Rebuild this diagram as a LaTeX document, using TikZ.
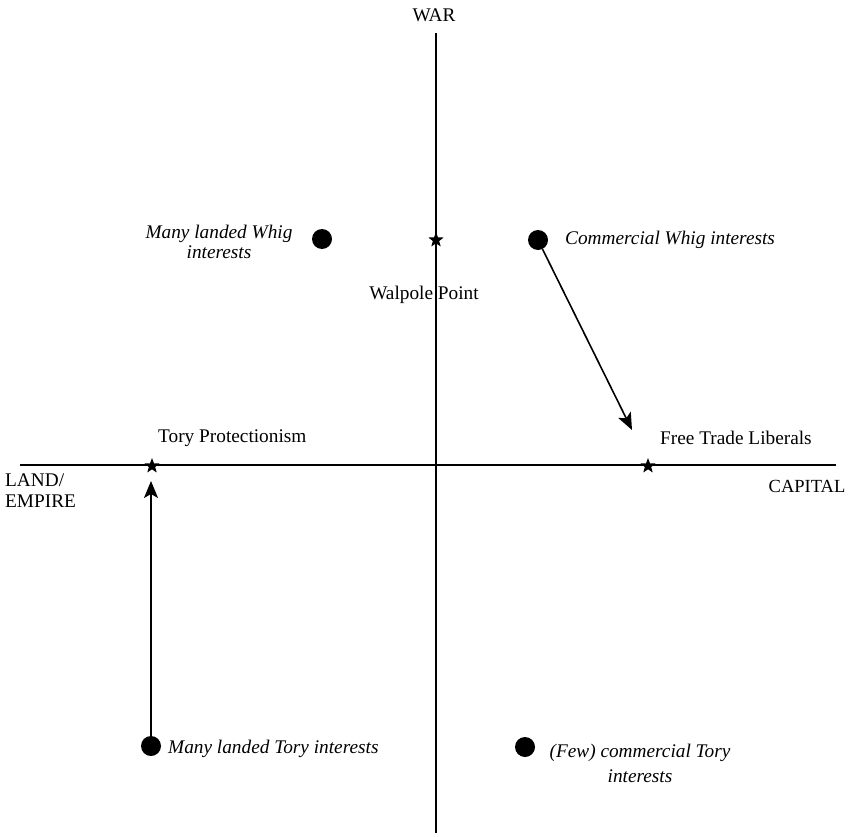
\documentclass[tikz,border=0pt]{standalone}
\usepackage{fontspec}
\setmainfont{Liberation Serif}
\usetikzlibrary{shapes.geometric,arrows.meta}
\begin{document}
\begin{tikzpicture}[x=1pt,y=-1pt,
  axis/.style={line width=1.6pt},
  dot/.style={circle,fill=black,minimum size=20pt,inner sep=0pt},
  starpt/.style={star,star points=5,star point ratio=2.4,fill=black,minimum size=16pt,inner sep=0pt},
  lbl/.style={font=\fontsize{19.3}{21}\selectfont,inner sep=0pt},
  ilbl/.style={lbl,font=\fontsize{19.3}{21}\selectfont\itshape,align=center},
  arr/.style={line width=1.6pt,-{Stealth[length=17pt,width=14pt,inset=4pt]}}]
\useasboundingbox (0,0) rectangle (856,837);
% axes
\coordinate (top) at (436,33);
\coordinate (bot) at (436,833);
\coordinate (left) at (20,465);
\coordinate (right) at (836,465);
\draw[axis] (top) -- (bot);
\draw[axis] (left) -- (right);
% stars
\node[starpt] (walpole) at (436,240) {};
\node[starpt] (tory) at (152,466) {};
\node[starpt] (free) at (648,466) {};
% dots
\node[dot] (lwhig) at (322,239) {};
\node[dot] (cwhig) at (538,240) {};
\node[dot] (ltory) at (151,746) {};
\node[dot] (ctory) at (525,747) {};
% arrows
\coordinate (t1) at (632,430);
\coordinate (t2) at (151,481);
\draw[arr] (cwhig) -- (t1);
\draw[arr] (ltory.north) -- (t2);
% labels
\node[lbl] (war) at (434,15) {WAR};
\node[lbl] (wp) at (424,295) {Walpole Point};
\node[lbl,anchor=west] (tp) at (158,438) {Tory Protectionism};
\node[lbl,anchor=west] (ftl) at (660,438) {Free Trade Liberals};
\node[lbl,anchor=west,align=left] (land) at (5,491) {LAND/\\EMPIRE};
\node[lbl,font=\fontsize{18.5}{21}\selectfont] (cap) at (807,486) {CAPITAL};
\node[ilbl,font=\fontsize{19.3}{20}\selectfont\itshape] (lwt) at (219,242) {Many landed Whig\\interests};
\node[ilbl,anchor=west] (cwt) at (565,240) {Commercial Whig interests};
\node[ilbl,anchor=west] (ltt) at (168,749) {Many landed Tory interests};
\node[ilbl,font=\fontsize{19.3}{25}\selectfont\itshape] (ctt) at (640,763) {(Few) commercial Tory\\interests};
\end{tikzpicture}
\end{document}
